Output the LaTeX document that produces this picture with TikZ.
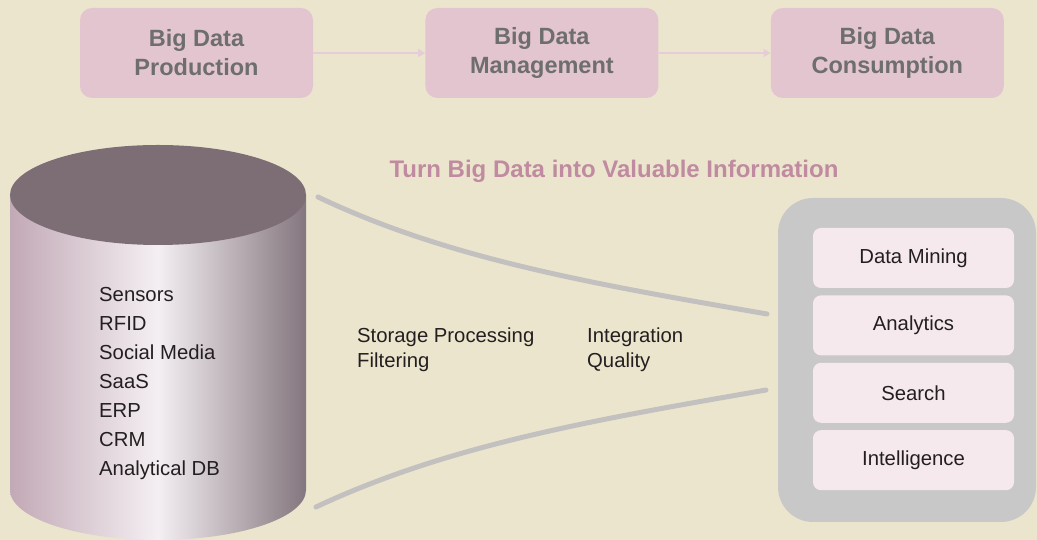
\documentclass[tikz,border=0pt]{standalone}
\usepackage{fontspec}
\setmainfont{Liberation Sans}
\usepackage{xcolor}
\usetikzlibrary{arrows.meta, positioning}

\definecolor{paper}{HTML}{ECE5CD}
\definecolor{stagefill}{HTML}{E3C5D0}
\definecolor{stagetext}{HTML}{6E6E6E}
\definecolor{stagearrow}{HTML}{E6CCD6}
\definecolor{headline}{HTML}{C08BA0}
\definecolor{dbtop}{HTML}{7D6E76}
\definecolor{dbleft}{HTML}{C2A9B6}
\definecolor{dbmid}{HTML}{F4EFF2}
\definecolor{dbright}{HTML}{84767E}
\definecolor{funnel}{HTML}{C3C1C0}
\definecolor{panel}{HTML}{C8C8C8}
\definecolor{usefill}{HTML}{F5E9EE}
\definecolor{ink}{HTML}{231F20}

\begin{document}
\begin{tikzpicture}[x=1pt, y=1pt, node distance=112pt,
   stagebox/.style={fill=stagefill, rounded corners=12pt, minimum width=233pt, minimum height=90pt,
                    align=center, text=stagetext, font=\fontsize{23.5}{29}\selectfont\bfseries},
   usebox/.style={fill=usefill, rounded corners=8pt, minimum width=201pt, minimum height=60pt,
                  text=ink, font=\fontsize{20.3}{25}\selectfont},
   plain/.style={text=ink, font=\fontsize{20.3}{25}\selectfont, align=left, inner sep=0pt},
   flow/.style={-{Triangle[length=7pt, width=8pt]}, line width=2pt, stagearrow}]
  \useasboundingbox (0,0) rectangle (1037,540);
  \fill[paper] (0,0) rectangle (1037,540);

  % the three stages on top
  \node[stagebox] (prod) at (196.5,487) {Big Data\\Production};
  \node[stagebox, right=of prod] (mgmt) {Big Data\\Management};
  \node[stagebox, right=of mgmt] (cons) {Big Data\\Consumption};
  \draw[flow] (prod) -- (mgmt);
  \draw[flow] (mgmt) -- (cons);

  \node[text=headline, font=\fontsize{24}{28}\selectfont\bfseries] (turn) at (614,369)
       {Turn Big Data into Valuable Information};

  % data store
  \shade[left color=dbleft, right color=dbright, middle color=dbmid]
    (10,345) -- (10,50) arc[start angle=180, end angle=360, x radius=148, y radius=50]
    -- (306,345) -- cycle;
  \fill[dbtop] (158,345) ellipse [x radius=148, y radius=50];
  \foreach \src [count=\i] in {Sensors, RFID, Social Media, SaaS, ERP, CRM, Analytical DB}
    \node[plain, anchor=base west] (src\i) at (99,{238-29*(\i-1)}) {\src};

  % funnel walls
  \coordinate (fa) at (318,343);
  \coordinate (fb) at (767,226);
  \coordinate (fc) at (316,33);
  \coordinate (fd) at (766,150);
  \draw[funnel, line width=5pt, line cap=round] (fa) .. controls (450,280) and (600,255) .. (fb);
  \draw[funnel, line width=5pt, line cap=round] (fc) .. controls (450,96) and (600,121) .. (fd);

  % base anchor sits on the last line
  \node[plain, anchor=base west] (store) at (357,172) {Storage Processing\\Filtering};
  \node[plain, anchor=base west] (integ) at (587,172) {Integration\\Quality};

  % consumers
  \fill[panel, rounded corners=35pt] (778,18) rectangle (1036,342);
  \node[usebox] (mine) at (913.5,282) {Data Mining};
  \node[usebox, below=7pt of mine] (anal) {Analytics};
  \node[usebox, below=7pt of anal] (srch) {Search};
  \node[usebox, below=7pt of srch] (intel) {Intelligence};
\end{tikzpicture}
\end{document}
